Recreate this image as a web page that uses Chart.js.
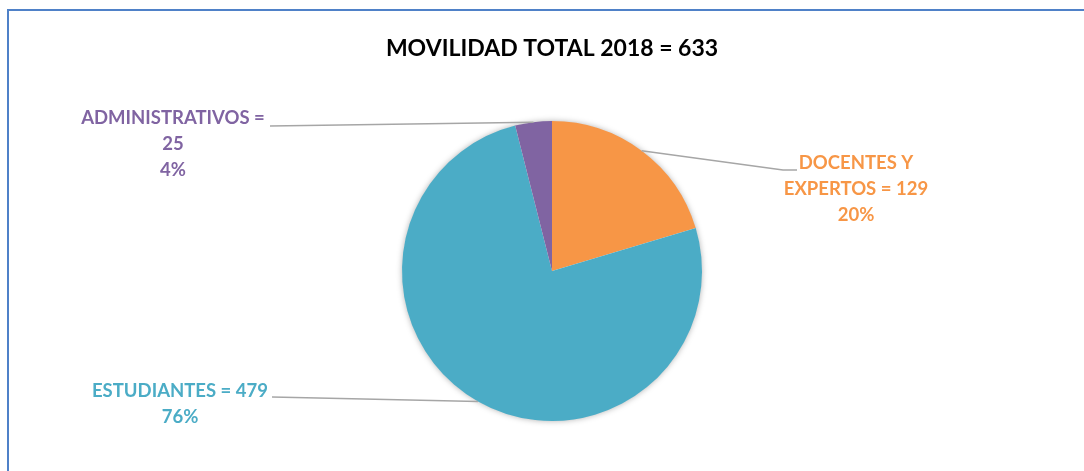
<!DOCTYPE html>
<html>
<head>
<meta charset="utf-8">
<script src="https://cdn.jsdelivr.net/npm/chart.js@4"></script>
<style>
  html, body { margin: 0; padding: 0; background: #fff; }
  #wrap { width: 1084px; height: 471px; position: relative; }
</style>
</head>
<body>
<div id="wrap"><canvas id="movChart" width="1084" height="471"></canvas></div>
<script>
const categories = ['DOCENTES Y EXPERTOS', 'ESTUDIANTES', 'ADMINISTRATIVOS'];
const counts = [129, 479, 25];
const sliceColors = ['#F79646', '#4BACC6', '#8064A2'];
const titleText = 'MOVILIDAD TOTAL 2018 = 633';

const total = counts.reduce((a, b) => a + b, 0);

// where each callout sits (text centre x, first line y), elbow of the leader line and wrap width
const callouts = [
  { x: 856, y: 163, wrap: 165, line: [[797, 170], [783, 170]] },
  { x: 180, y: 391, wrap: 230, line: [[272, 397]] },
  { x: 173, y: 118, wrap: 200, line: [[270, 126]] }
];

const labelFont = 'bold 18.5px Lato, "Open Sans", sans-serif';

function wrapText(ctx, text, maxW) {
  const words = text.split(' ');
  const lines = [];
  let cur = '';
  words.forEach(w => {
    const test = cur ? cur + ' ' + w : w;
    if (cur && ctx.measureText(test).width > maxW) {
      lines.push(cur);
      cur = w;
    } else {
      cur = test;
    }
  });
  if (cur) lines.push(cur);
  return lines;
}

const framePlugin = {
  id: 'frame',
  beforeDraw(chart) {
    const ctx = chart.ctx;
    ctx.save();
    ctx.strokeStyle = '#4F81C8';
    ctx.lineWidth = 2;
    ctx.beginPath();
    ctx.moveTo(8, chart.height + 5);
    ctx.lineTo(8, 10);
    ctx.lineTo(chart.width + 5, 10);
    ctx.stroke();
    ctx.restore();
  }
};

const shadowPlugin = {
  id: 'pieShadow',
  beforeDatasetsDraw(chart) {
    const arc = chart.getDatasetMeta(0).data[0];
    if (!arc) return;
    const ctx = chart.ctx;
    ctx.save();
    ctx.shadowColor = 'rgba(0,0,0,0.35)';
    ctx.shadowBlur = 6;
    ctx.fillStyle = '#fff';
    ctx.beginPath();
    ctx.arc(arc.x, arc.y, arc.outerRadius - 0.5, 0, Math.PI * 2);
    ctx.fill();
    ctx.restore();
  }
};

const calloutPlugin = {
  id: 'callouts',
  afterDatasetsDraw(chart) {
    const ctx = chart.ctx;
    const meta = chart.getDatasetMeta(0);
    ctx.save();
    meta.data.forEach((arc, i) => {
      const c = callouts[i];
      const mid = (arc.startAngle + arc.endAngle) / 2;
      const px = arc.x + Math.cos(mid) * arc.outerRadius;
      const py = arc.y + Math.sin(mid) * arc.outerRadius;
      ctx.strokeStyle = '#A6A6A6';
      ctx.lineWidth = 1.5;
      ctx.beginPath();
      ctx.moveTo(px, py);
      c.line.slice().reverse().forEach(p => ctx.lineTo(p[0], p[1]));
      ctx.stroke();

      ctx.font = labelFont;
      ctx.fillStyle = sliceColors[i];
      ctx.textAlign = 'center';
      ctx.textBaseline = 'middle';
      const pct = Math.round(counts[i] / total * 100);
      const lines = wrapText(ctx, categories[i] + ' = ' + counts[i], c.wrap);
      lines.push(pct + '%');
      lines.forEach((t, k) => ctx.fillText(t, c.x, c.y + k * 26));
    });
    ctx.restore();
  }
};

const ctx = document.getElementById('movChart').getContext('2d');
new Chart(ctx, {
  type: 'pie',
  data: {
    labels: categories,
    datasets: [{
      data: counts,
      backgroundColor: sliceColors,
      borderWidth: 0
    }]
  },
  options: {
    responsive: false,
    animation: false,
    layout: { padding: { left: 26, right: 6, top: 0, bottom: 50 } },
    plugins: {
      legend: { display: false },
      tooltip: { enabled: false },
      title: {
        display: true,
        text: titleText,
        color: '#000',
        font: { family: 'Lato, "Open Sans", sans-serif', size: 23, weight: 'bold', lineHeight: 1.2 },
        padding: { top: 34.5, bottom: 58.9 }
      }
    }
  },
  plugins: [framePlugin, shadowPlugin, calloutPlugin]
});
</script>
</body>
</html>
